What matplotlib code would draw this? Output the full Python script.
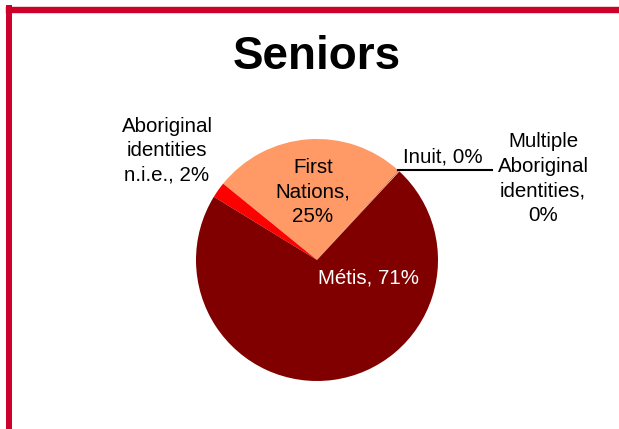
import numpy as np
import matplotlib
matplotlib.use("Agg")
import matplotlib.pyplot as plt
from matplotlib.lines import Line2D

plt.rcParams['font.family'] = ['Liberation Sans', 'DejaVu Sans']

# data (percent of Aboriginal seniors)
groups = ["Inuit", "Multiple Aboriginal identities", "First Nations",
          "Aboriginal identities n.i.e.", "Métis"]
shares = [0.1, 0.1, 25.7, 2.1, 71.4]
shown = [0, 0, 25, 2, 71]
colors = ["#ffcc99", "#cc3300", "#ff9966", "#ff0000", "#800000"]
label_text = ["Inuit, {}%", "Multiple\nAboriginal\nidentities,\n{}%",
              "First\nNations,\n{}%", "Aboriginal\nidentities\nn.i.e., {}%",
              "Métis, {}%"]

W, H = 619, 429
fig = plt.figure(figsize=(W / 100, H / 100), dpi=100)
ax = fig.add_axes([0, 0, 1, 1])

cx, cy, r = 317, H - 260, 121
start = 47.8 - (shares[0] + shares[1]) / sum(shares) * 360
wedges, _ = ax.pie(shares, colors=colors, startangle=start, center=(cx, cy),
                   radius=r, frame=True, wedgeprops=dict(linewidth=0))
ax.set_xlim(0, W)
ax.set_ylim(0, H)
ax.set_aspect('equal')
ax.axis('off')

# red frame
border = "#cc0029"
ax.add_line(Line2D([8.5, 8.5], [0, H - 8], color=border, lw=4.3, solid_capstyle='projecting'))
ax.add_line(Line2D([8.5, W], [H - 10.3, H - 10.3], color=border, lw=4.6, solid_capstyle='projecting'))

ax.text(317, H - 57, "Seniors", ha='center', va='center', fontsize=33, fontweight='bold')

fs = 14.8
ls = 1.36
lbl = [t.format(v) for t, v in zip(label_text, shown)]
ax.text(443, H - 157, lbl[0], ha='center', va='center', fontsize=fs)
ax.text(543, H - 178.5, lbl[1], ha='center', va='center', fontsize=fs, linespacing=ls)
ax.text(313, H - 192, lbl[2], ha='center', va='center', fontsize=fs, linespacing=ls)
ax.text(167, H - 151, lbl[3], ha='center', va='center', fontsize=fs, linespacing=ls)
ax.text(368, H - 278, lbl[4], ha='center', va='center', fontsize=fs, color='white')

# leader line for the tiny slices
th = np.deg2rad(wedges[1].theta2)
px, py = cx + r * np.cos(th), cy + r * np.sin(th)
ax.add_line(Line2D([px, 492], [py, py], color='black', lw=1.5))

fig.savefig("out.png", dpi=100)
